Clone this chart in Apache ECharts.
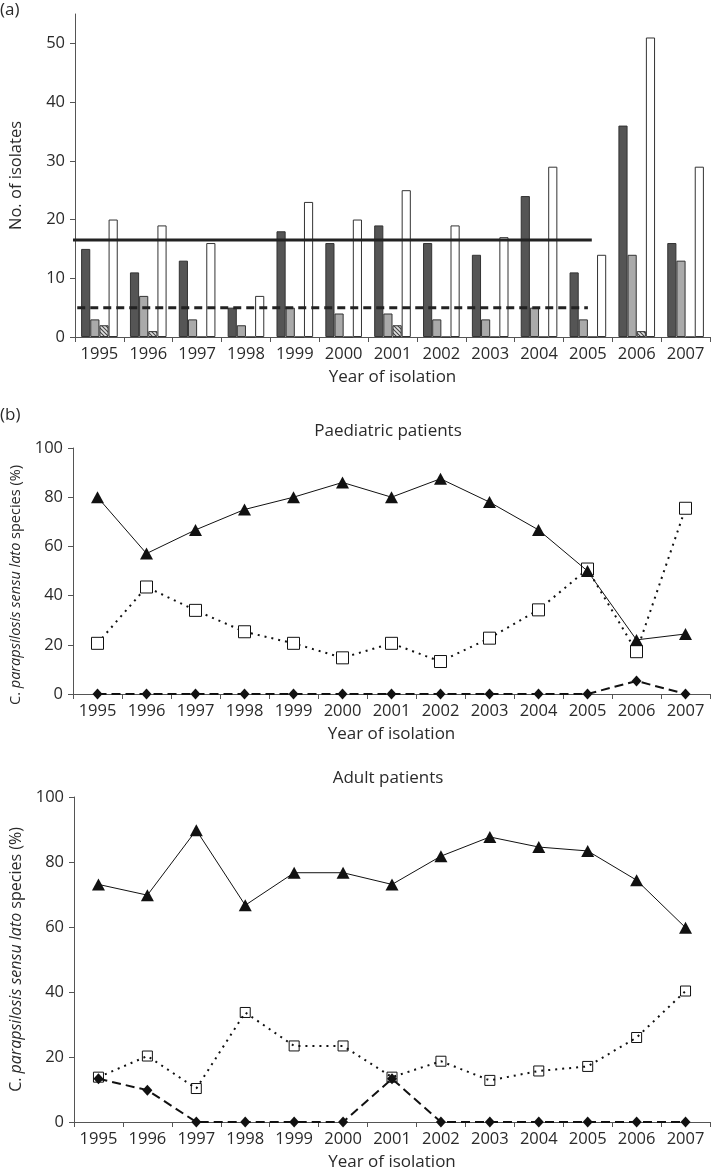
<!DOCTYPE html>
<html>
<head>
<meta charset="utf-8">
<script src="https://cdn.jsdelivr.net/npm/echarts@6/dist/echarts.min.js"></script>
<style>
html,body{margin:0;padding:0;background:#fff;}
#c{width:711px;height:1173px;}
</style>
</head>
<body>
<div id="c"></div>
<script>
const years = ['1995','1996','1997','1998','1999','2000','2001','2002','2003','2004','2005','2006','2007'];

// Panel (a): number of isolates
const darkBars    = [15, 11, 13, 5, 18, 16, 19, 16, 14, 24, 11, 36, 16];
const greyBars    = [3, 7, 3, 2, 5, 4, 4, 3, 3, 5, 3, 14, 13];
const hatchedBars = [2, 1, 0, 0, 0, 0, 2, 0, 0, 0, 0, 1, 0];
const whiteBars   = [20, 19, 16, 7, 23, 20, 25, 19, 17, 29, 14, 51, 29];
const meanSolid = 16.5;
const meanDashed = 5;
const meanSolidSpan = [-0.66, 10.08];   // in category-index units
const meanDashedSpan = [-0.72, 10.0];
const yTicksA = [0, 10, 20, 30, 40, 50];

// Panel (b): paediatric patients (%)
const paedTriangle = [80, 57.1, 66.7, 75, 80, 86, 80, 87.5, 78, 66.7, 50, 22, 24.4];
const paedSquare   = [20.6, 43.5, 34, 25.3, 20.6, 14.7, 20.6, 13.2, 22.7, 34.2, 50.8, 17.2, 75.5];
const paedDiamond  = [0, 0, 0, 0, 0, 0, 0, 0, 0, 0, 0, 5.3, 0];

// Panel (b): adult patients (%)
const adultTriangle = [73.1, 69.8, 89.8, 66.7, 76.7, 76.7, 73.1, 81.8, 87.7, 84.6, 83.4, 74.4, 59.8];
const adultSquare   = [13.8, 20.3, 10.3, 33.7, 23.4, 23.4, 13.8, 18.7, 12.8, 15.7, 17.1, 26, 40.3];
const adultDiamond  = [13.3, 9.8, 0, 0, 0, 0, 13.3, 0, 0, 0, 0, 0, 0];

const FONT = '"Open Sans", "Noto Sans", sans-serif';
const TXT = '#2a2a2a';
const AX = '#555';
const FS = 16.5;

// hatch pattern tile for the striped bars
const hatch = document.createElement('canvas');
hatch.width = 4; hatch.height = 4;
(function () {
  const g = hatch.getContext('2d');
  g.fillStyle = '#e0e0e0'; g.fillRect(0, 0, 4, 4);
  g.strokeStyle = '#444'; g.lineWidth = 1.1;
  g.beginPath();
  g.moveTo(-1, -1); g.lineTo(5, 5);
  g.moveTo(-1, 3); g.lineTo(1, 5);
  g.moveTo(3, -1); g.lineTo(5, 1);
  g.stroke();
})();

const chart = echarts.init(document.getElementById('c'), null, {renderer: 'canvas'});

function xCat(gridIndex) {
  return {
    type: 'category', gridIndex, data: years, boundaryGap: true,
    name: 'Year of isolation', nameLocation: 'middle', nameGap: 32,
    nameTextStyle: {fontFamily: FONT, fontSize: 17, color: TXT},
    axisLine: {onZero: false, lineStyle: {color: AX, width: 1}},
    axisTick: {show: true, length: 5, alignWithLabel: false, lineStyle: {color: AX}},
    axisLabel: {fontFamily: FONT, fontSize: FS, color: TXT, margin: 9, interval: 0},
    splitLine: {show: false}
  };
}
const pctName = '{n|C. }{i|parapsilosis sensu lato}{n| species (%)}';
function yPct(gridIndex, fs, extra) {
  return {
    type: 'value', gridIndex, min: 0, max: 100, interval: 20,
    name: pctName + (extra || ''), nameLocation: 'middle', nameGap: 50, nameRotate: 90,
    nameTextStyle: {fontFamily: FONT, fontSize: fs, color: TXT,
      rich: {
        n: {fontFamily: FONT, fontSize: fs, color: TXT},
        i: {fontFamily: FONT, fontSize: fs, color: TXT, fontStyle: 'italic'},
        s: {width: 28, fontSize: fs}
      }},
    axisLine: {show: true, onZero: false, lineStyle: {color: AX, width: 1}},
    axisTick: {show: true, length: 5, lineStyle: {color: AX}},
    axisLabel: {fontFamily: FONT, fontSize: FS, color: TXT, margin: 10},
    splitLine: {show: false}
  };
}

function lineSeries(xi, yi, data, symbol, size, lineType, lw, fill, z) {
  return {
    type: 'line', xAxisIndex: xi, yAxisIndex: yi, data,
    symbol, symbolSize: size, showSymbol: true,
    lineStyle: {color: '#111', width: lw, type: lineType},
    itemStyle: {color: fill, borderColor: '#111', borderWidth: fill === '#111' ? 0 : 1},
    z, animation: false
  };
}

const barBorder = {borderColor: '#333', borderWidth: 1};

const option = {
  animation: false,
  backgroundColor: '#fff',
  grid: [
    {left: 66, top: 14, width: 644, height: 323},
    {left: 66, top: 448, width: 644, height: 246},
    {left: 66, top: 797, width: 644, height: 325}
  ],
  xAxis: [
    xCat(0), xCat(1), xCat(2),
    {type: 'value', gridIndex: 0, min: -0.5, max: 12.5, show: false,
     axisLine: {show: false, onZero: false}, axisTick: {show: false}, axisLabel: {show: false}, splitLine: {show: false}}
  ],
  yAxis: [
    {
      type: 'value', gridIndex: 0, min: 0, max: 55, interval: 10,
      name: 'No. of isolates', nameLocation: 'middle', nameGap: 50,
      nameTextStyle: {fontFamily: FONT, fontSize: 16.5, color: TXT},
      axisLine: {show: true, onZero: false, lineStyle: {color: AX, width: 1}},
      axisTick: {show: true, length: 5, lineStyle: {color: AX}, customValues: yTicksA},
      axisLabel: {fontFamily: FONT, fontSize: FS, color: TXT, margin: 10, customValues: yTicksA},
      splitLine: {show: false}
    },
    yPct(1, 14.5, '{s| }'),
    yPct(2, 16, '')
  ],
  graphic: [
    {type: 'text', left: 0, top: 2, style: {text: '(a)', font: '17px ' + FONT, fill: TXT}},
    {type: 'text', left: 0, top: 407, style: {text: '(b)', font: '17px ' + FONT, fill: TXT}},
    {type: 'text', x: 388, y: 431, style: {text: 'Paediatric patients', font: '17px ' + FONT, fill: TXT, align: 'center', verticalAlign: 'middle'}},
    {type: 'text', x: 388, y: 778, style: {text: 'Adult patients', font: '17px ' + FONT, fill: TXT, align: 'center', verticalAlign: 'middle'}}
  ],
  series: [
    {type: 'bar', xAxisIndex: 0, yAxisIndex: 0, data: darkBars, barGap: '0%', barCategoryGap: '25%',
     itemStyle: Object.assign({color: '#555'}, barBorder)},
    {type: 'bar', xAxisIndex: 0, yAxisIndex: 0, data: greyBars,
     itemStyle: Object.assign({color: '#aaa'}, barBorder)},
    {type: 'bar', xAxisIndex: 0, yAxisIndex: 0, data: hatchedBars,
     itemStyle: Object.assign({color: {image: hatch, repeat: 'repeat'}}, barBorder)},
    {type: 'bar', xAxisIndex: 0, yAxisIndex: 0, data: whiteBars,
     itemStyle: Object.assign({color: '#fff'}, barBorder)},
    {type: 'line', xAxisIndex: 3, yAxisIndex: 0, clip: false, symbol: 'none',
     data: meanSolidSpan.map(x => [x, meanSolid]),
     lineStyle: {color: '#222', width: 3, type: 'solid'}, z: 5},
    {type: 'line', xAxisIndex: 3, yAxisIndex: 0, clip: false, symbol: 'none',
     data: meanDashedSpan.map(x => [x, meanDashed]),
     lineStyle: {color: '#222', width: 3, type: [8, 5]}, z: 5},

    lineSeries(1, 1, paedSquare, 'rect', 12, [2, 5], 2, '#fff', 3),
    lineSeries(1, 1, paedDiamond, 'diamond', [10, 11], [9, 5], 2, '#111', 4),
    lineSeries(1, 1, paedTriangle, 'triangle', [13, 12], 'solid', 1, '#111', 5),

    lineSeries(2, 2, adultSquare, 'rect', 10, [2, 5], 2, 'rgba(255,255,255,0)', 3),
    lineSeries(2, 2, adultDiamond, 'diamond', [10, 11], [9, 5], 2, '#111', 4),
    lineSeries(2, 2, adultTriangle, 'triangle', [13, 12], 'solid', 1, '#111', 5)
  ]
};
chart.setOption(option);
</script>
</body>
</html>
